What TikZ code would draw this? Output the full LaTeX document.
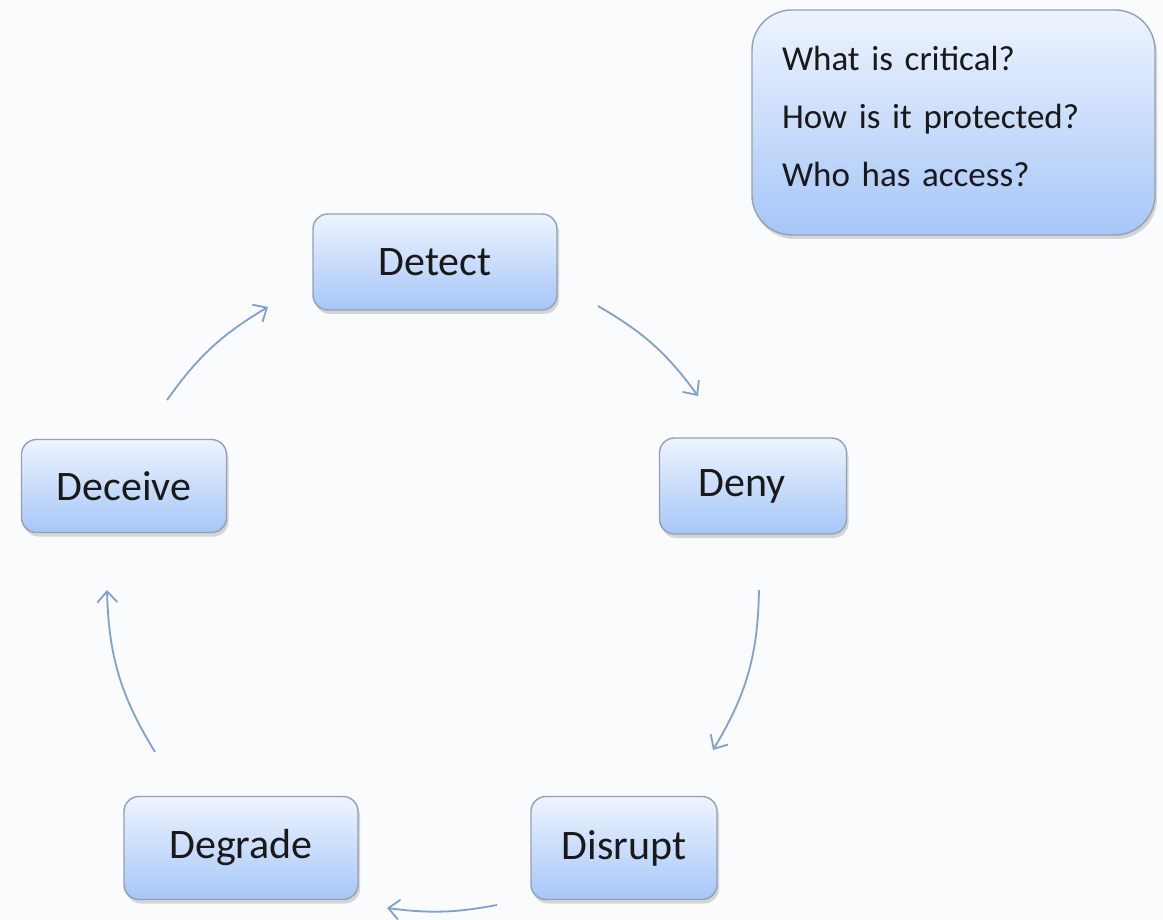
\documentclass[tikz,border=0pt]{standalone}
\usepackage{fontspec}
\setmainfont{Carlito}
\usepackage{tikz}
\usetikzlibrary{arrows.meta,shadows}

\definecolor{bgcol}{RGB}{249,251,253}
\definecolor{boxtop}{RGB}{238,244,254}
\definecolor{boxbot}{RGB}{166,198,248}
\definecolor{boxline}{RGB}{150,160,176}
\definecolor{arrcol}{RGB}{128,160,206}

\tikzset{
	step box/.style={draw=boxline, line width=1.4pt, rounded corners=15pt, top color=boxtop, bottom color=boxbot,
		drop shadow={shadow xshift=2pt, shadow yshift=-4pt, opacity=0.3}, text=black!90,
		font=\fontsize{42}{50}\selectfont, minimum height=96pt},
	flow/.style={draw=arrcol, line width=1.8pt, -{Straight Barb[length=11pt,width=20pt,line width=1.8pt]}}
}

\begin{document}
\begin{tikzpicture}[x=1pt,y=1pt]
\fill[bgcol] (0,0) rectangle (1163,-920);
\useasboundingbox (0,0) rectangle (1163,-920);

		\node[step box, minimum width=244pt] (detect) at (435,-262){Detect};
		\node[step box, minimum width=187pt] (deny) at (753,-486){Deny\kern22pt};
		\node[step box, minimum width=186pt, minimum height=103pt] (disrupt) at (624,-848){Disrupt};
		\node[step box, minimum width=234pt, minimum height=103pt] (degrade) at (241,-848){Degrade};
		\node[step box, minimum width=205pt, minimum height=93pt] (deceive) at (124,-486){Deceive};

		\node[step box, rounded corners=40pt, minimum width=403pt, minimum height=225pt, text width=343pt,
			inner xsep=30pt, align=left, font=\fontsize{35}{58}\selectfont] (questions) at (953.5,-122.5)
			{What is critical?\\How is it protected?\\Who has access?\\[-46pt]\mbox{}};

% arrow ends on the ring
\coordinate (detect-out) at (598,-306);
\coordinate (deny-in) at (698,-396);
\coordinate (deny-out) at (759,-590);
\coordinate (disrupt-in) at (713,-750);
\coordinate (disrupt-out) at (497,-905);
\coordinate (degrade-in) at (387,-908);
\coordinate (degrade-out) at (155,-752);
\coordinate (deceive-in) at (107,-590);
\coordinate (deceive-out) at (167,-400);
\coordinate (detect-in) at (268,-307);

\draw[flow] (detect-out) to[bend left=12] (deny-in);
\draw[flow] (deny-out) to[bend left=15] (disrupt-in);
\draw[flow] (disrupt-out) to[bend left=9] (degrade-in);
\draw[flow] (degrade-out) to[bend left=15] (deceive-in);
\draw[flow] (deceive-out) to[bend left=12] (detect-in);
\end{tikzpicture}
\end{document}
